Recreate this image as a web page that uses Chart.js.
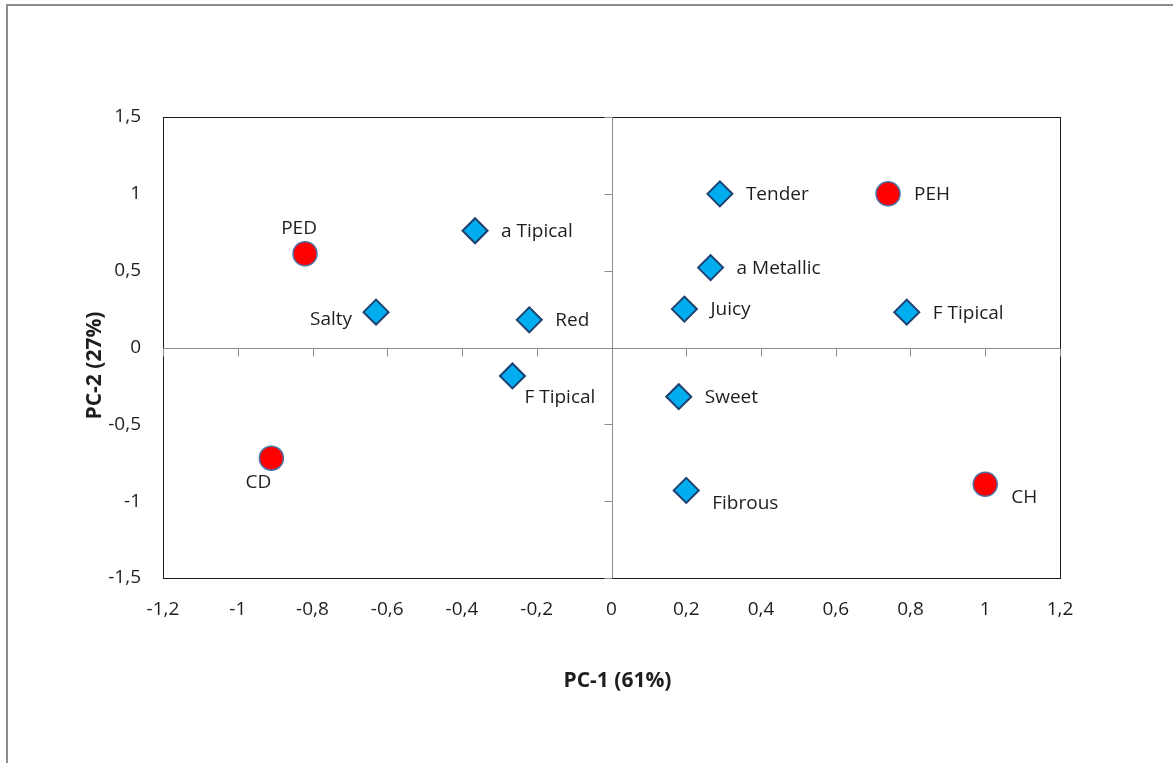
<!DOCTYPE html>
<html>
<head>
<meta charset="utf-8">
<title>PCA biplot</title>
<script src="https://cdn.jsdelivr.net/npm/chart.js@4.4.1/dist/chart.umd.min.js"></script>
<style>
  html, body { margin: 0; padding: 0; background: #ffffff; }
  #wrap { position: relative; width: 1173px; height: 763px; }
</style>
</head>
<body>
<div id="wrap"><canvas id="pca"></canvas></div>
<script>
// Sample scores (red circles)
const sampleNames = ['PED', 'PEH', 'CD', 'CH'];
const sampleX = [-0.82, 0.74, -0.91, 1.00];
const sampleY = [0.61, 1.00, -0.72, -0.89];
const sampleLabelPos = ['above', 'right', 'belowLeft', 'belowRight'];

// Sensory attribute loadings (blue diamonds)
const attrNames = ['a Tipical', 'Salty', 'Red', 'F Tipical', 'Tender', 'a Metallic', 'Juicy', 'F Tipical', 'Sweet', 'Fibrous'];
const attrX = [-0.365, -0.63, -0.22, -0.265, 0.29, 0.265, 0.195, 0.79, 0.18, 0.20];
const attrY = [0.76, 0.23, 0.18, -0.185, 1.00, 0.52, 0.25, 0.23, -0.32, -0.93];
const attrLabelPos = ['right', 'left', 'right', 'under', 'right', 'right', 'right', 'right', 'right', 'belowRight'];

// Axis tick labels (decimal comma)
const xTickLabels = ['-1,2', '-1', '-0,8', '-0,6', '-0,4', '-0,2', '0', '0,2', '0,4', '0,6', '0,8', '1', '1,2'];
const yTickLabels = ['-1,5', '-1', '-0,5', '0', '0,5', '1', '1,5'];

const xTitle = 'PC-1 (61%)';
const yTitle = 'PC-2 (27%)';

const FONT = '"Open Sans", "DejaVu Sans", sans-serif';
const TEXT = '#1e1e1e';

function toPoints(xs, ys) {
  return xs.map((x, i) => ({ x: x, y: ys[i] }));
}

// label anchor offsets relative to the marker centre
const placements = {
  right:      { dx: 26,  dy: 1,   align: 'left' },
  left:       { dx: -24, dy: 7,   align: 'right' },
  above:      { dx: -6,  dy: -25, align: 'center' },
  belowLeft:  { dx: -13, dy: 24,  align: 'center' },
  belowRight: { dx: 26,  dy: 13,  align: 'left' },
  under:      { dx: 12,  dy: 22,  align: 'left' }
};

// outer frame of the figure
const framePlugin = {
  id: 'frame',
  beforeDraw(chart) {
    const ctx = chart.ctx;
    ctx.save();
    ctx.strokeStyle = '#8c8c8c';
    ctx.lineWidth = 2;
    ctx.strokeRect(7, 5, chart.width + 20, chart.height + 20);
    ctx.restore();
  }
};

// plot box, axes through the origin with tick marks, axis titles
const axesPlugin = {
  id: 'originAxes',
  beforeDatasetsDraw(chart) {
    const { ctx, chartArea: a, scales: { x, y } } = chart;
    ctx.save();
    ctx.strokeStyle = '#1a1a1a';
    ctx.lineWidth = 1;
    ctx.strokeRect(Math.round(a.left) + 0.5, Math.round(a.top) + 0.5,
                   Math.round(a.right - a.left), Math.round(a.bottom - a.top));

    const x0 = Math.round(x.getPixelForValue(0)) + 0.5;
    const y0 = Math.round(y.getPixelForValue(0)) + 0.5;
    ctx.strokeStyle = '#8c8c8c';
    ctx.beginPath();
    ctx.moveTo(x0, a.top); ctx.lineTo(x0, a.bottom);
    ctx.moveTo(a.left, y0); ctx.lineTo(a.right, y0);
    x.ticks.forEach(t => {
      const px = Math.round(x.getPixelForValue(t.value)) + 0.5;
      ctx.moveTo(px, y0); ctx.lineTo(px, y0 + 8);
    });
    y.ticks.forEach(t => {
      const py = Math.round(y.getPixelForValue(t.value)) + 0.5;
      ctx.moveTo(x0 - 8, py); ctx.lineTo(x0, py);
    });
    ctx.stroke();
    ctx.restore();
  },
  afterDraw(chart) {
    const { ctx, chartArea: a } = chart;
    ctx.save();
    ctx.fillStyle = TEXT;
    ctx.font = 'bold 21px ' + FONT;
    ctx.textAlign = 'center';
    ctx.textBaseline = 'middle';
    ctx.fillText(xTitle, (a.left + a.right) / 2 + 6, 681);
    ctx.translate(95, (a.top + a.bottom) / 2 + 18);
    ctx.rotate(-Math.PI / 2);
    ctx.fillText(yTitle, 0, 0);
    ctx.restore();
  }
};

// point name labels
const labelPlugin = {
  id: 'pointLabels',
  afterDatasetsDraw(chart) {
    const ctx = chart.ctx;
    ctx.save();
    ctx.font = '19px ' + FONT;
    ctx.fillStyle = TEXT;
    ctx.textBaseline = 'middle';
    chart.data.datasets.forEach((ds, di) => {
      const meta = chart.getDatasetMeta(di);
      meta.data.forEach((pt, i) => {
        const p = placements[ds.labelPos[i]];
        ctx.textAlign = p.align;
        ctx.fillText(ds.names[i], pt.x + p.dx, pt.y + p.dy);
      });
    });
    ctx.restore();
  }
};

new Chart(document.getElementById('pca'), {
  type: 'scatter',
  data: {
    datasets: [
      {
        label: 'Samples',
        names: sampleNames,
        labelPos: sampleLabelPos,
        data: toPoints(sampleX, sampleY),
        pointStyle: 'circle',
        pointRadius: 12,
        pointHoverRadius: 12,
        backgroundColor: '#ff0000',
        borderColor: '#4a72a8',
        borderWidth: 1.5
      },
      {
        label: 'Attributes',
        names: attrNames,
        labelPos: attrLabelPos,
        data: toPoints(attrX, attrY),
        pointStyle: 'rectRot',
        pointRadius: 12.5,
        pointHoverRadius: 12.5,
        backgroundColor: '#00aeef',
        borderColor: '#1f3f6e',
        borderWidth: 2
      }
    ]
  },
  options: {
    responsive: true,
    maintainAspectRatio: false,
    animation: false,
    events: [],
    layout: { padding: { top: 117, right: 113, left: 0, bottom: 0 } },
    plugins: {
      legend: { display: false },
      tooltip: { enabled: false }
    },
    scales: {
      x: {
        type: 'linear',
        position: 'bottom',
        min: -1.2,
        max: 1.2,
        grid: { display: false, drawTicks: false },
        border: { display: false },
        ticks: {
          stepSize: 0.2,
          maxRotation: 0,
          autoSkip: false,
          padding: 20,
          color: TEXT,
          font: { family: FONT, size: 19 },
          callback: (v, i) => xTickLabels[i]
        },
        afterFit(scale) { scale.height = 185; }
      },
      y: {
        type: 'linear',
        position: 'left',
        min: -1.5,
        max: 1.5,
        grid: { display: false, drawTicks: false },
        border: { display: false },
        ticks: {
          stepSize: 0.5,
          autoSkip: false,
          padding: 22,
          color: TEXT,
          font: { family: FONT, size: 19 },
          callback: (v, i) => yTickLabels[i]
        },
        afterFit(scale) { scale.width = 163; }
      }
    }
  },
  plugins: [framePlugin, axesPlugin, labelPlugin]
});
</script>
</body>
</html>
